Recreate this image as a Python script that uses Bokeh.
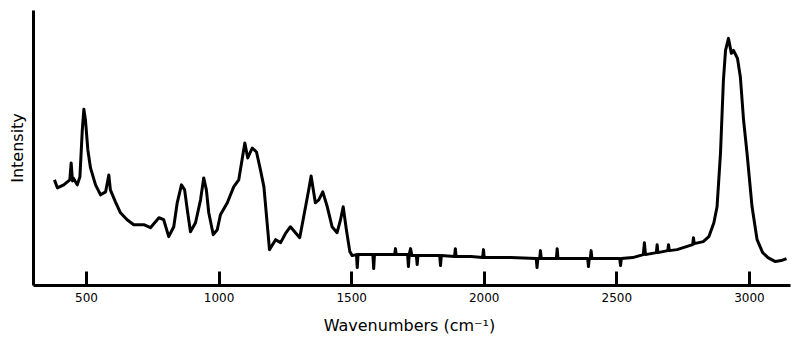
from bokeh.plotting import figure
from bokeh.models import Range1d, FixedTicker
from bokeh.embed import file_html
from bokeh.resources import INLINE

# Raman spectrum (intensity in arbitrary units)
wavenumber = [
    379, 390, 414, 437, 442, 447, 450, 465, 475, 484, 490, 496, 505, 515, 534, 553,
    572, 584, 590, 609, 628, 653, 678, 716, 741, 773, 791, 810, 829, 842, 858, 870,
    880, 892, 911, 930, 942, 952, 961, 978, 993, 1005, 1031, 1055, 1074, 1097, 1108,
    1125, 1141, 1156, 1169, 1181, 1190, 1213, 1232, 1250, 1269, 1288, 1304, 1319,
    1338, 1347, 1363, 1376, 1391, 1408, 1426, 1445, 1458, 1468, 1480, 1493, 1502,
    1518, 1521, 1524, 1560, 1580, 1583, 1586, 1630, 1662, 1665, 1668, 1711, 1714,
    1717, 1722, 1727, 1744, 1747, 1750, 1800, 1832, 1835, 1838, 1888, 1891, 1894,
    1950, 1994, 1997, 2000, 2100, 2196, 2199, 2202, 2209, 2212, 2215, 2272, 2275,
    2278, 2300, 2390, 2393, 2396, 2400, 2403, 2406, 2450, 2511, 2514, 2517, 2560,
    2600, 2604, 2608, 2649, 2652, 2655, 2692, 2695, 2698, 2727, 2786, 2789, 2792,
    2826, 2847, 2866, 2878, 2891, 2902, 2910, 2921, 2932, 2940, 2955, 2966, 2978,
    2991, 3010, 3029, 3050, 3070, 3098, 3120, 3140,
]
intensity = [
    106, 98, 101, 106, 123, 105, 108, 101, 109, 156, 177, 166, 136, 118, 101, 91,
    94, 111, 96, 84, 73, 66, 61, 61, 58, 68, 66, 49, 59, 83, 101, 96,
    76, 54, 63, 86, 108, 96, 73, 51, 56, 71, 83, 99, 106, 143, 128,
    138, 134, 116, 99, 63, 36, 46, 43, 52, 59, 53, 48, 69,
    96, 110, 83, 86, 94, 79, 59, 53, 66, 79, 56, 34, 30,
    31, 18, 31, 31, 31, 17, 31, 31, 31, 37, 31, 31, 19,
    31, 37, 30, 30, 21, 30, 30, 30, 20, 30, 29, 37, 29,
    29, 28, 36, 28, 28, 27, 18, 27, 27, 35, 27, 27, 37,
    27, 27, 27, 19, 27, 27, 35, 27, 27, 27, 20, 27, 28,
    31, 43, 31, 33, 41, 33, 35, 41, 35, 36, 41, 48, 42,
    44, 49, 63, 79, 133, 206, 236, 248, 233, 236, 228, 209, 166,
    133, 79, 46, 33, 28, 24, 25, 27,
]

tick_values = [500, 1000, 1500, 2000, 2500, 3000]

p = figure(
    width=792, height=337,
    x_range=Range1d(300, 3155), y_range=Range1d(0, 276),
    output_backend="svg", toolbar_location=None,
    min_border_left=33, min_border_right=2, min_border_top=10, min_border_bottom=51,
)
p.outline_line_color = None
p.grid.visible = False
p.background_fill_color = "white"
p.border_fill_color = "white"

p.line(wavenumber, intensity, line_color="black", line_width=3, line_join="round")

FONT = "DejaVu Sans"
xa = p.xaxis[0]
xa.ticker = FixedTicker(ticks=tick_values)
xa.axis_line_width = 3
xa.axis_line_color = "black"
xa.major_tick_in = 14
xa.major_tick_out = 0
xa.major_tick_line_width = 3
xa.major_tick_line_color = "black"
xa.minor_tick_line_color = None
xa.major_label_text_font = FONT
xa.major_label_text_font_size = "12px"
xa.major_label_text_color = "black"
xa.major_label_standoff = 7
xa.axis_label = "Wavenumbers  (cm\u207b\u00b9)"
xa.axis_label_text_font = FONT
xa.axis_label_text_font_size = "16px"
xa.axis_label_text_font_style = "normal"
xa.axis_label_text_color = "black"
xa.axis_label_standoff = 11

ya = p.yaxis[0]
ya.axis_line_width = 3
ya.axis_line_color = "black"
ya.major_tick_in = 0
ya.major_tick_out = 0
ya.major_tick_line_color = None
ya.minor_tick_in = 0
ya.minor_tick_out = 0
ya.minor_tick_line_color = None
ya.major_label_standoff = 0
ya.major_label_text_font_size = "0px"
ya.major_label_text_color = None
ya.axis_label = "Intensity"
ya.axis_label_text_font = FONT
ya.axis_label_text_font_size = "16px"
ya.axis_label_text_font_style = "normal"
ya.axis_label_text_color = "black"
ya.axis_label_standoff = 7

open("out.html", "w").write(file_html(p, INLINE))
